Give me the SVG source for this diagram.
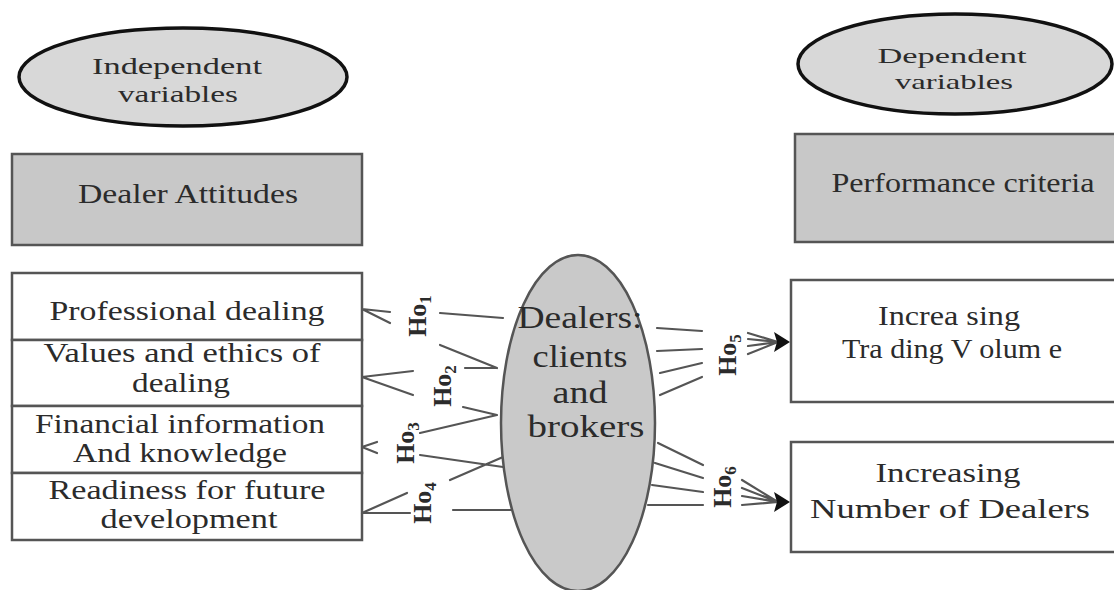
<svg xmlns="http://www.w3.org/2000/svg" width="1114" height="590" viewBox="0 0 1114 590">
<style>
text{font-family:"Liberation Serif","Times New Roman",serif;fill:#2b2b2b;text-anchor:middle}
.hdr{fill:#d8d8d8;stroke:#111;stroke-width:3.5}
.gbox{fill:#c8c8c8;stroke:#555;stroke-width:2.5}
.wbox{fill:#fff;stroke:#555;stroke-width:2.5}
.t22{font-size:22px}
.t24{font-size:24px}
.t27{font-size:27px}
.t32{font-size:32px}
.ho{font-size:26px;font-weight:bold}
.ln{stroke:#555;stroke-width:2.2;fill:none;stroke-linecap:round}
.head{fill:#111}
</style>
<rect width="1114" height="590" fill="#fff"/>

<g id="independent">
<ellipse class="hdr" cx="183" cy="77" rx="164" ry="49"/>
<text class="t24" x="177" y="74" textLength="170" lengthAdjust="spacingAndGlyphs">Independent</text>
<text class="t24" x="178" y="102" textLength="120" lengthAdjust="spacingAndGlyphs">variables</text>
</g>

<g id="dealer-attitudes">
<rect class="gbox" x="12" y="154" width="350" height="91"/>
<text class="t27" x="188" y="203" textLength="220" lengthAdjust="spacingAndGlyphs">Dealer Attitudes</text>
</g>

<g id="dependent">
<ellipse class="hdr" cx="955" cy="64" rx="157" ry="50"/>
<text class="t22" x="952" y="63" textLength="149" lengthAdjust="spacingAndGlyphs">Dependent</text>
<text class="t22" x="954" y="89" textLength="118" lengthAdjust="spacingAndGlyphs">variables</text>
</g>

<g id="performance-criteria">
<rect class="gbox" x="795" y="134" width="325" height="108"/>
<text class="t27" x="963" y="192" textLength="263" lengthAdjust="spacingAndGlyphs">Performance criteria</text>
</g>

<g id="professional-dealing">
<rect class="wbox" x="12" y="273" width="350" height="67"/>
<text class="t27" x="187" y="320" textLength="275" lengthAdjust="spacingAndGlyphs">Professional dealing</text>
</g>
<g id="values-ethics">
<rect class="wbox" x="12" y="340" width="350" height="66"/>
<text class="t27" x="182" y="362" textLength="277" lengthAdjust="spacingAndGlyphs">Values and ethics of</text>
<text class="t27" x="181" y="392" textLength="98" lengthAdjust="spacingAndGlyphs">dealing</text>
</g>
<g id="financial-information">
<rect class="wbox" x="12" y="406" width="350" height="67"/>
<text class="t27" x="180" y="433" textLength="290" lengthAdjust="spacingAndGlyphs">Financial information</text>
<text class="t27" x="180" y="462" textLength="214" lengthAdjust="spacingAndGlyphs">And knowledge</text>
</g>
<g id="readiness">
<rect class="wbox" x="12" y="473" width="350" height="67"/>
<text class="t27" x="187" y="499" textLength="277" lengthAdjust="spacingAndGlyphs">Readiness for future</text>
<text class="t27" x="189" y="528" textLength="177" lengthAdjust="spacingAndGlyphs">development</text>
</g>

<g id="connectors">
<!-- left side -->
<path class="ln" d="M362,309 L390,312 M362,309 L390,323 M440,313 L503,318"/>
<path class="ln" d="M440,345 L497,368 M465,368 L497,368"/>
<path class="ln" d="M362,377 L413,371 M362,377 L413,395"/>
<path class="ln" d="M463,407 L497,415 M420,433 L497,415"/>
<path class="ln" d="M362,447 L377,442 M362,447 L377,453"/>
<path class="ln" d="M420,455 L503,467 M450,480 L503,457"/>
<path class="ln" d="M362,513 L407,493 M362,513 L410,513 M453,510 L513,510"/>
<!-- right side -->
<path class="ln" d="M657,328 L702,331 M657,351 L702,349 M660,373 L702,363 M660,395 L702,377"/>
<path class="ln" d="M748,333 L778,342 M748,339 L778,342 M748,346 L778,342 M748,354 L778,342"/>
<polygon class="head" points="790,342 774,332 777,342 774,352"/>
<path class="ln" d="M658,443 L703,465 M655,463 L703,478 M652,485 L703,492 M648,505 L703,505"/>
<path class="ln" d="M742,480 L778,502 M742,488 L778,502 M742,496 L778,502 M742,505 L778,502"/>
<polygon class="head" points="790,502 774,492 777,502 774,512"/>
<text class="ho" transform="translate(426,316) rotate(-90)">Ho<tspan dy="5" font-size="17">1</tspan></text>
<text class="ho" transform="translate(451,386) rotate(-90)">Ho<tspan dy="5" font-size="17">2</tspan></text>
<text class="ho" transform="translate(414,443) rotate(-90)">Ho<tspan dy="5" font-size="17">3</tspan></text>
<text class="ho" transform="translate(431,503) rotate(-90)">Ho<tspan dy="5" font-size="17">4</tspan></text>
<text class="ho" transform="translate(736,355) rotate(-90)">Ho<tspan dy="5" font-size="17">5</tspan></text>
<text class="ho" transform="translate(731,487) rotate(-90)">Ho<tspan dy="5" font-size="17">6</tspan></text>
</g>

<g id="dealers">
<ellipse cx="578" cy="423" rx="77" ry="168" fill="#c9c9c9" stroke="#555" stroke-width="2.5"/>
<text class="t32" x="580" y="328" textLength="125" lengthAdjust="spacingAndGlyphs">Dealers:</text>
<text class="t32" x="580" y="367" textLength="95" lengthAdjust="spacingAndGlyphs">clients</text>
<text class="t32" x="580" y="403" textLength="55" lengthAdjust="spacingAndGlyphs">and</text>
<text class="t32" x="586" y="437" textLength="117" lengthAdjust="spacingAndGlyphs">brokers</text>
</g>

<g id="trading-volume">
<rect class="wbox" x="791" y="280" width="330" height="122"/>
<text class="t27" x="949" y="325" textLength="142" lengthAdjust="spacingAndGlyphs">Increa sing</text>
<text class="t27" x="952" y="358" textLength="220" lengthAdjust="spacingAndGlyphs">Tra ding V olum e</text>
</g>

<g id="number-of-dealers">
<rect class="wbox" x="791" y="442" width="330" height="110"/>
<text class="t27" x="948" y="482" textLength="145" lengthAdjust="spacingAndGlyphs">Increasing</text>
<text class="t27" x="950" y="518" textLength="280" lengthAdjust="spacingAndGlyphs">Number  of Dealers</text>
</g>
</svg>
